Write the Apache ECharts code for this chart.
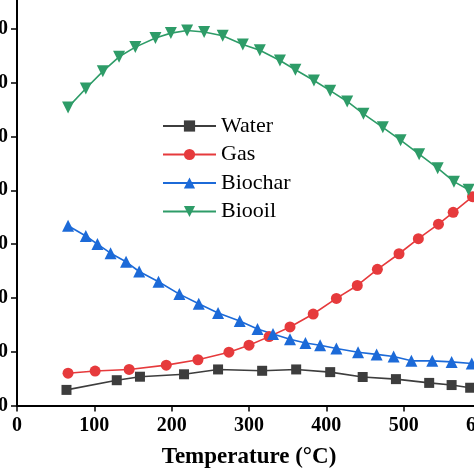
<!DOCTYPE html>
<html>
<head>
<meta charset="utf-8">
<script src="https://cdn.jsdelivr.net/npm/echarts@6/dist/echarts.min.js"></script>
<style>html,body{margin:0;padding:0;background:#fff;}#c{width:474px;height:474px;}</style>
</head>
<body>
<div id="c"></div>
<script>
const seriesNames = ['Water', 'Gas', 'Biochar', 'Biooil'];
const xTicks = [0, 100, 200, 300, 400, 500, 600];
const yTicks = [0, 10, 20, 30, 40, 50, 60, 70, 80];

const waterX = [64, 129, 159, 216, 260, 317, 361, 405, 447, 490, 533, 562, 586];
const waterY = [2.9, 4.7, 5.35, 5.8, 6.7, 6.45, 6.7, 6.2, 5.3, 4.9, 4.2, 3.8, 3.3];

const gasX = [66, 101, 145, 193, 234, 274, 300, 326, 353, 383, 413, 440, 466, 494, 519, 545, 564, 589];
const gasY = [6.0, 6.4, 6.7, 7.5, 8.5, 9.9, 11.2, 12.8, 14.6, 17.0, 19.9, 22.3, 25.3, 28.2, 31.0, 33.7, 35.9, 38.8];

const biocharX = [66, 89, 104, 121, 141, 158, 183, 210, 235, 260, 288, 311, 331, 353, 373, 392, 413, 441, 465, 487, 510, 537, 562, 588];
const biocharY = [33.4, 31.5, 30.0, 28.3, 26.7, 24.9, 23.0, 20.7, 18.9, 17.2, 15.7, 14.2, 13.3, 12.3, 11.6, 11.2, 10.6, 9.9, 9.5, 9.1, 8.3, 8.3, 8.1, 7.8];

const biooilX = [66, 89, 111, 132, 153, 179, 199, 220, 242, 266, 292, 314, 340, 360, 384, 405, 427, 448, 473, 496, 520, 544, 565, 584];
const biooilY = [55.4, 58.9, 62.1, 64.8, 66.6, 68.3, 69.2, 69.7, 69.4, 68.7, 67.1, 66.0, 64.1, 62.4, 60.4, 58.5, 56.5, 54.2, 51.7, 49.3, 46.7, 44.1, 41.6, 40.1];

function pairs(xs, ys) { return xs.map((x, i) => [x, ys[i]]); }

const colors = ['#3d3d3d', '#e63a3c', '#1c6ad8', '#2e9c68'];
const symbols = ['rect', 'circle', 'triangle', 'triangle'];
const rotates = [0, 0, 0, 180];
const sizes = [10, 11, 12, 12];
const datasets = [pairs(waterX, waterY), pairs(gasX, gasY), pairs(biocharX, biocharY), pairs(biooilX, biooilY)];

const chart = echarts.init(document.getElementById('c'), null, {renderer: 'canvas'});
const serif = 'Liberation Serif';
chart.setOption({
  animation: false,
  backgroundColor: '#ffffff',
  grid: {left: 17, right: -7, top: -25, bottom: 68.5, containLabel: false, outerBoundsMode: 'none'},
  legend: {
    orient: 'vertical', left: 157, top: 110,
    itemWidth: 53, itemHeight: 14, itemGap: 6.5,
    textStyle: {fontFamily: serif, fontSize: 22, color: '#000'},
    data: seriesNames
  },
  xAxis: {
    type: 'value', min: xTicks[0], max: xTicks[xTicks.length - 1], interval: 100,
    name: 'Temperature (°C)', nameLocation: 'middle', nameGap: 40,
    nameTextStyle: {fontFamily: serif, fontWeight: 'bold', fontSize: 23, color: '#000'},
    axisLine: {show: true, lineStyle: {color: '#000', width: 2}},
    axisTick: {show: true, inside: false, length: 6, lineStyle: {color: '#000', width: 1.5}},
    axisLabel: {fontFamily: serif, fontWeight: 'bold', fontSize: 20, color: '#000', margin: 10},
    splitLine: {show: false}
  },
  yAxis: {
    type: 'value', min: yTicks[0], max: yTicks[yTicks.length - 1], interval: 10,
    axisLine: {show: true, lineStyle: {color: '#000', width: 2}},
    axisTick: {show: true, inside: false, length: 6, lineStyle: {color: '#000', width: 1.5}},
    axisLabel: {fontFamily: serif, fontWeight: 'bold', fontSize: 20, color: '#000', margin: 9},
    splitLine: {show: false}
  },
  series: seriesNames.map((n, i) => ({
    name: n, type: 'line', data: datasets[i],
    symbol: symbols[i], symbolSize: sizes[i], symbolRotate: rotates[i],
    showAllSymbol: true,
    lineStyle: {color: colors[i], width: 1.6},
    itemStyle: {color: colors[i], borderWidth: 0}
  }))
});
</script>
</body>
</html>
